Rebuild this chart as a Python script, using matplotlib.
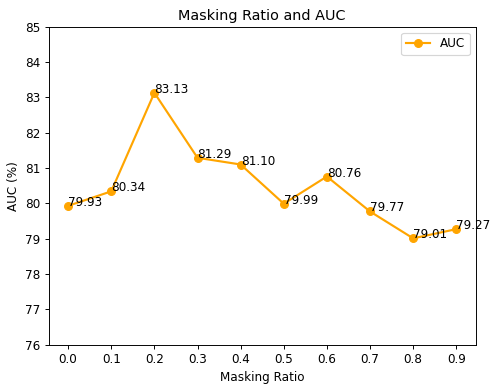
import matplotlib
matplotlib.use("Agg")
import matplotlib.pyplot as plt

# masking ratio vs AUC
ratios = [0.0, 0.1, 0.2, 0.3, 0.4, 0.5, 0.6, 0.7, 0.8, 0.9]
auc = [79.93, 80.34, 83.13, 81.29, 81.10, 79.99, 80.76, 79.77, 79.01, 79.27]

DPI = 86
fig = plt.figure(figsize=(499 / DPI, 390 / DPI), dpi=DPI)
plt.plot(ratios, auc, marker='o', color='orange', label='AUC', linewidth=1.8, markersize=6.5)
for x, y in zip(ratios, auc):
    plt.text(x, y, f'{y:.2f}')

plt.xticks(ratios)
plt.ylim(76, 85)
plt.xlabel('Masking Ratio')
plt.ylabel('AUC (%)')
plt.title('Masking Ratio and AUC')
plt.legend(loc='upper right')
plt.subplots_adjust(left=0.0976, right=0.9533, top=0.9315, bottom=0.1162)
plt.savefig('out.png', dpi=DPI)
